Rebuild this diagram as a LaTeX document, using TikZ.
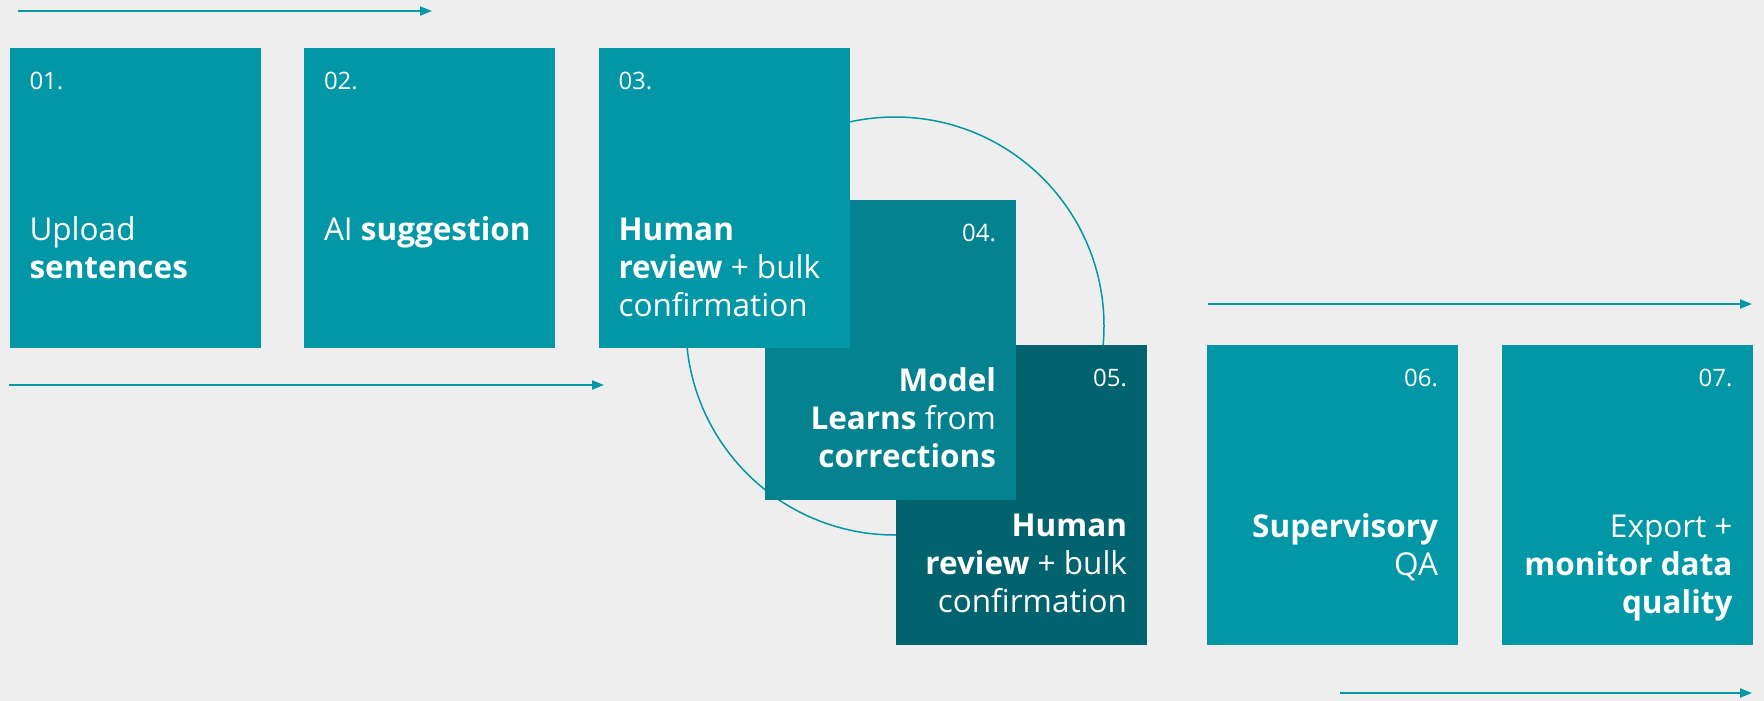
\documentclass[tikz,border=0pt]{standalone}
\usepackage{fontspec}
\setmainfont{Open Sans}
\usetikzlibrary{arrows.meta}
\definecolor{bg}{RGB}{238,238,238}
\definecolor{teal1}{RGB}{2,151,167}
\definecolor{teal2}{RGB}{4,130,143}
\definecolor{teal3}{RGB}{2,99,110}
\newcommand{\numfont}{\fontsize{24}{28}\selectfont}
\newcommand{\txtfont}{\fontsize{31.5}{38}\selectfont}

\begin{document}
\begin{tikzpicture}[x=1pt,y=-1pt,
  box/.style = {minimum width=251pt, minimum height=300pt, inner sep=0pt, fill=teal1},
  num/.style = {text=white, font=\numfont, inner sep=0pt},
  txt/.style = {text=white, font=\txtfont, inner sep=0pt},
  flow/.style = {draw=teal1, line width=2pt, -{Triangle[length=12pt,width=9pt]}},
  node distance={294.5pt}]
\fill[bg] (0,0) rectangle (1764,701);
% loop behind the boxes
\node[draw=teal1, line width=1.5pt, circle, minimum size=418pt, inner sep=0pt] (loop) at (895,326) {};
% steps 05 and 04 first, 03 lies over them
\node[box, fill=teal3] (5) at (1021.5,494.5) {};
\node[num, anchor=base east] (n5) at ([shift={(-20,42)}]5.north east) {05.};
\node[txt, anchor=base east, align=right] (t5) at ([shift={(-20,268)}]5.north east) {\textbf{Human}\\\textbf{review} + bulk\\confirmation};
\node[box, fill=teal2] (4) at (890.5,350) {};
\node[num, anchor=base east] (n4) at ([shift={(-20,42)}]4.north east) {04.};
\node[txt, anchor=base east, align=right] (t4) at ([shift={(-20,268)}]4.north east) {\textbf{Model}\\\textbf{Learns} from\\\textbf{corrections}};
\node[box] (1) at (135,198) {};
\node[box] (2) [right of=1] {};
\node[box] (3) [right of=2] {};
\node[num, anchor=base west] (n1) at ([shift={(20,42)}]1.north west) {01.};
\node[num, anchor=base west] (n2) at ([shift={(20,42)}]2.north west) {02.};
\node[num, anchor=base west] (n3) at ([shift={(20,42)}]3.north west) {03.};
\node[txt, anchor=base west, align=left] (t1) at ([shift={(20,231)}]1.north west) {Upload\\\textbf{sentences}};
\node[txt, anchor=base west, align=left] (t2) at ([shift={(20,193)}]2.north west) {AI \textbf{suggestion}};
\node[txt, anchor=base west, align=left] (t3) at ([shift={(20,269)}]3.north west) {\textbf{Human}\\\textbf{review} + bulk\\confirmation};
% last two steps
\node[box] (6) at (1332.5,494.5) {};
\node[box] (7) [right of=6] {};
\node[num, anchor=base east] (n6) at ([shift={(-20,42)}]6.north east) {06.};
\node[num, anchor=base east] (n7) at ([shift={(-20,42)}]7.north east) {07.};
\node[txt, anchor=base east, align=right] (t6) at ([shift={(-20,231)}]6.north east) {\textbf{Supervisory}\\QA};
\node[txt, anchor=base east, align=right] (t7) at ([shift={(-20,269)}]7.north east) {Export +\\\textbf{monitor data}\\\textbf{quality}};
% flow arrows
\coordinate (a1s) at (18,11);
\coordinate (a1e) at (432,11);
\coordinate (a2s) at (9,385);
\coordinate (a2e) at (604,385);
\coordinate (a3s) at (1208,304);
\coordinate (a3e) at (1752,304);
\coordinate (a4s) at (1340,693);
\coordinate (a4e) at (1752,693);
\draw[flow] (a1s) -- (a1e);
\draw[flow] (a2s) -- (a2e);
\draw[flow] (a3s) -- (a3e);
\draw[flow] (a4s) -- (a4e);
\end{tikzpicture}
\end{document}
